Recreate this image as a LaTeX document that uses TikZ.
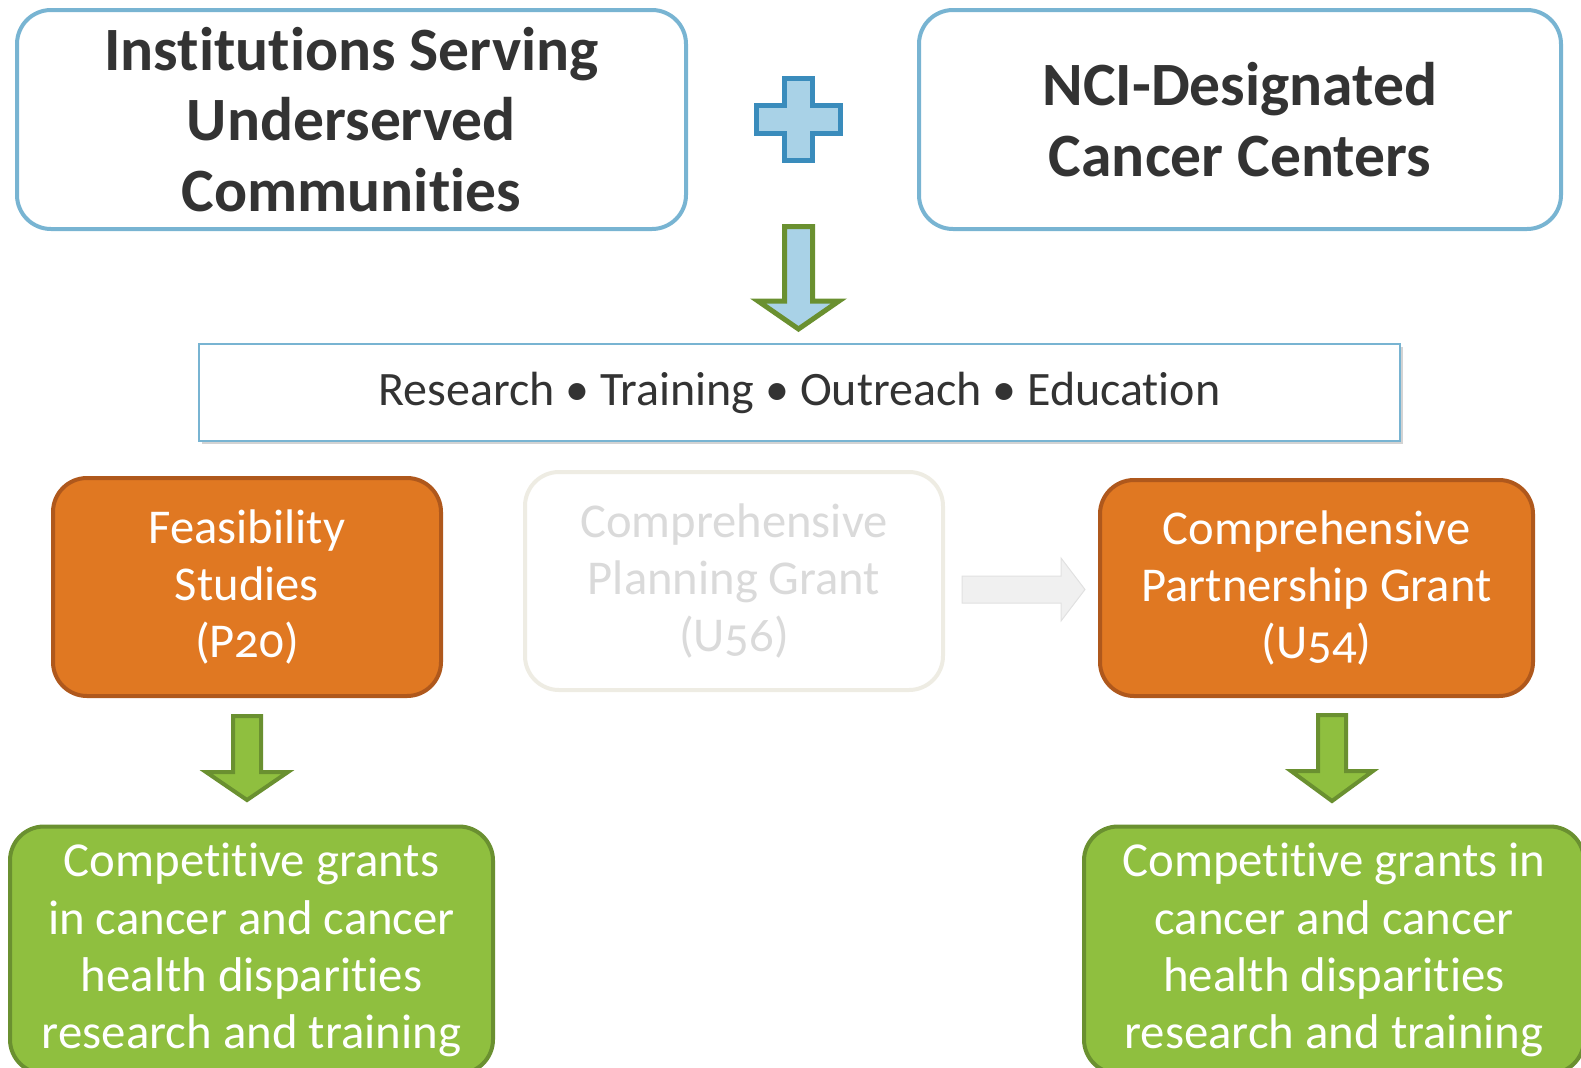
\documentclass[tikz,border=0pt]{standalone}
\usepackage{fontspec}
\setmainfont{Carlito}[Ligatures=NoCommon]
\newfontfamily\grantfont{Carlito}[Numbers=OldStyle,Ligatures=NoCommon]
\usetikzlibrary{shadows}
\definecolor{boxblue}{HTML}{78B4D2}
\definecolor{plusblue}{HTML}{3A8CBC}
\definecolor{lightblue}{HTML}{A9D2E7}
\definecolor{textgray}{HTML}{333333}
\definecolor{orangefill}{HTML}{E07822}
\definecolor{orangeline}{HTML}{AF581C}
\definecolor{greenfill}{HTML}{8FBF3F}
\definecolor{greenline}{HTML}{6A9030}
\definecolor{fadeline}{HTML}{EEECE3}
\definecolor{fadetext}{HTML}{DADADA}
\begin{document}
\begin{tikzpicture}[x=0.5pt,y=-0.5pt,
  topbox/.style={draw=boxblue,line width=2pt,rounded corners=17pt,fill=white,align=center,text=textgray,inner sep=0pt,font=\bfseries\fontsize{30.8}{35.2}\selectfont},
  grantbox/.style={draw=orangeline,fill=orangefill,line width=2pt,rounded corners=17pt,align=center,text=white,inner sep=0pt,font=\grantfont\fontsize{24.3}{28.5}\selectfont},
  resultbox/.style={draw=greenline,fill=greenfill,line width=2pt,rounded corners=17pt,align=center,text=white,inner sep=0pt,font=\fontsize{24.4}{28.6}\selectfont}]
\useasboundingbox (0,0) rectangle (1581,1067);

\node[topbox,minimum width=334.5pt,minimum height=109.5pt] (inst) at (351.5,119.5){Institutions Serving\\Underserved\\Communities};
\node[topbox,minimum width=321pt,minimum height=109.5pt] (nci) at (1240,119.5){NCI-Designated\\Cancer Centers};

%plus
\draw[plusblue,fill=lightblue,line width=2.5pt] (784.5,78.5) -- (812.5,78.5) -- (812.5,105.5) -- (840.5,105.5) -- (840.5,133.5) -- (812.5,133.5) -- (812.5,160.5) -- (784.5,160.5) -- (784.5,133.5) -- (756.5,133.5) -- (756.5,105.5) -- (784.5,105.5) -- cycle;
%arrow down
\draw[greenline,fill=lightblue,line width=2.5pt] (784.5,226.5) -- (812.5,226.5) -- (812.5,301) -- (839,301) -- (798.5,329) -- (758,301) -- (784.5,301) -- cycle;

\node[draw=boxblue,line width=1pt,fill=white,drop shadow={shadow xshift=1.5pt,shadow yshift=-1.5pt,opacity=0.35},minimum width=600.5pt,minimum height=48.5pt,text=textgray,font=\fontsize{24}{28}\selectfont] (rtoe) at (799.5,392.5){Research \textbullet{} Training \textbullet{} Outreach \textbullet{} Education};

\node[grantbox,minimum width=194pt,minimum height=109pt] (p20) at (247,587){Feasibility\\Studies\\(P20)};
\node[grantbox,draw=fadeline,fill=white,text=fadetext,minimum width=209pt,minimum height=109pt] (u56) at (734,581){Comprehensive\\Planning Grant\\(U56)};
\node[grantbox,minimum width=216.5pt,minimum height=108pt] (u54) at (1316.5,588){Comprehensive\\Partnership Grant\\(U54)};

%grey arrow
\draw[fadetext!80,fill=black!6,line width=0.5pt] (962,576) -- (1061,576) -- (1061,558) -- (1085,589.5) -- (1061,621) -- (1061,603) -- (962,603) -- cycle;

%green arrows
\draw[greenline,fill=greenfill,line width=2pt] (233,716) -- (261,716) -- (261,772) -- (288,772) -- (247,800) -- (206,772) -- (233,772) -- cycle;
\draw[greenline,fill=greenfill,line width=2pt] (1318,715) -- (1346,715) -- (1346,771) -- (1373,771) -- (1332,801) -- (1291,771) -- (1318,771) -- cycle;

\node[resultbox,minimum width=241.5pt,minimum height=123.5pt] (grl) at (251.5,950){Competitive grants\\in cancer and cancer\\health disparities\\research and training};
\node[resultbox,minimum width=250pt,minimum height=123.5pt] (grr) at (1334,950){Competitive grants in\\cancer and cancer\\health disparities\\research and training};
\end{tikzpicture}
\end{document}
